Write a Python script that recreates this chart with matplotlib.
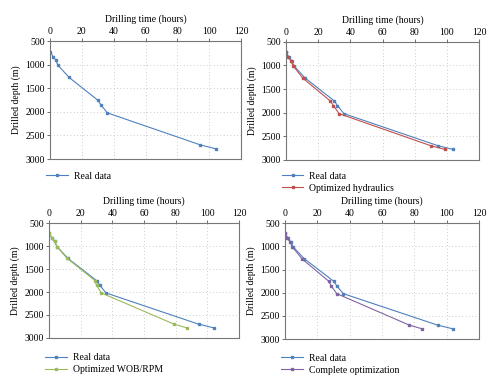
import numpy as np
import matplotlib
matplotlib.use('Agg')
import matplotlib.pyplot as plt

plt.rcParams['font.family'] = ['Liberation Serif', 'DejaVu Serif']

depth = [720, 830, 900, 1010, 1270, 1750, 1850, 2020, 2700, 2780]
t_real = [0, 2, 3.5, 5, 12, 30, 32, 36, 94.5, 104]
t_hydr = [0, 1.5, 3, 4.5, 10.5, 27.5, 29.5, 33, 90, 99]
t_wob = [0, 2, 3.5, 5, 11.5, 29, 30, 33, 79, 87]
t_comp = [0, 1.5, 3, 4.5, 10.5, 27, 28.5, 32, 77, 85]

xticks = [0, 20, 40, 60, 80, 100, 120]
yticks = [500, 1000, 1500, 2000, 2500, 3000]

blue = '#4f81bd'
others = [
    (None, None, None),
    (t_hydr, 'Optimized hydraulics', '#c0504d'),
    (t_wob, 'Optimized WOB/RPM', '#9bbb59'),
    (t_comp, 'Complete optimization', '#8064a2'),
]

positions = [
    [0.100, 0.590, 0.382, 0.304],
    [0.572, 0.588, 0.386, 0.304],
    [0.098, 0.129, 0.380, 0.296],
    [0.570, 0.126, 0.388, 0.299],
]
leg_anchor = [(0.085, 0.567), (0.556, 0.567), (0.083, 0.100), (0.555, 0.098)]

fig = plt.figure(figsize=(5, 3.88), dpi=100)

for i in range(4):
    ax = fig.add_axes(positions[i])
    ax.plot(t_real, depth, color=blue, marker='s', markersize=1.8, lw=0.8,
            label='Real data')
    t, name, c = others[i]
    if t is not None:
        ax.plot(t, depth, color=c, marker='s', markersize=1.8, lw=0.8, label=name)
    ax.set_xlim(0, 120)
    ax.set_ylim(3000, 500)
    ax.set_xticks(xticks)
    ax.set_yticks(yticks)
    ax.xaxis.tick_top()
    ax.xaxis.set_label_position('top')
    ax.set_xlabel('Drilling time (hours)', fontsize=7, labelpad=4)
    ax.set_ylabel('Drilled depth (m)', fontsize=7, labelpad=3)
    ax.tick_params(labelsize=7, length=2, width=0.6, color='#555555', pad=1.5)
    ax.grid(True, linestyle=(0, (1, 3)), color='#bbbbbb', lw=0.6)
    for s in ax.spines.values():
        s.set_color('#777777')
        s.set_linewidth(0.8)
    fig.legend(handles=ax.get_lines(), loc='upper left', bbox_to_anchor=leg_anchor[i],
               frameon=False, fontsize=7, handlelength=2.2, labelspacing=0.3,
               borderaxespad=0, handletextpad=0.6)

fig.savefig('out.png', dpi=100)
